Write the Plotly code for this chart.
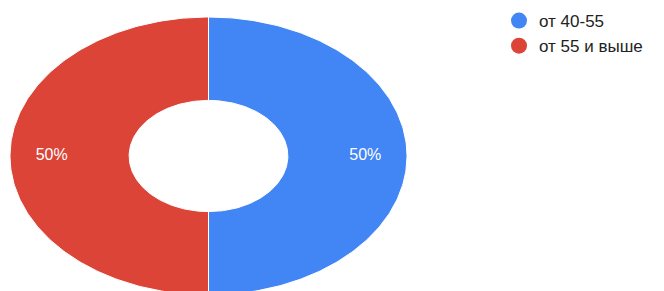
import numpy as np
import plotly.graph_objects as go

# ---- data ----
categories = ["от 40-55", "от 55 и выше"]
values = [50, 50]
colors = ["#4285F4", "#DB4437"]

# ---- geometry (derived from values) ----
# page body has an 8px margin, so the figure is sized to fit the rest
OFF = 8
W, H = 664 - 2 * OFF, 291 - OFF
cx_px, cy_px = 208.5 - OFF, 156.0 - OFF   # centre in figure pixels
rx_px, ry_px = 198.5, 139.0               # outer radii (stretched donut)
hole = 0.4
label_r = 0.79

x_range = [-cx_px / rx_px, (W - cx_px) / rx_px]
y_range = [-(H - cy_px) / ry_px, cy_px / ry_px]

total = float(sum(values))
fig = go.Figure()

start = 0.0
label_x, label_y, label_t = [], [], []
for cat, val, col in zip(categories, values, colors):
    frac = val / total
    a0, a1 = start * 2 * np.pi, (start + frac) * 2 * np.pi
    th = np.linspace(a0, a1, 200)
    xs = np.concatenate([np.sin(th), hole * np.sin(th[::-1])])
    ys = np.concatenate([np.cos(th), hole * np.cos(th[::-1])])
    xs = np.append(xs, xs[0])
    ys = np.append(ys, ys[0])
    fig.add_trace(go.Scatter(
        x=xs, y=ys, mode="lines", fill="toself", fillcolor=col,
        line=dict(color="white", width=1), showlegend=False,
        hoverinfo="skip", name=cat))
    mid = (a0 + a1) / 2
    label_x.append(label_r * np.sin(mid))
    label_y.append(label_r * np.cos(mid))
    label_t.append(f"{round(frac * 100)}%")
    start += frac

fig.add_trace(go.Scatter(
    x=label_x, y=label_y, mode="text", text=label_t,
    textfont=dict(family="Arial, Liberation Sans, sans-serif", size=16, color="white"),
    showlegend=False, hoverinfo="skip"))

for i, (cat, col) in enumerate(zip(categories, colors)):
    fig.add_trace(go.Scatter(
        x=[None], y=[None], mode="markers", name=cat,
        marker=dict(color=col, size=16, symbol="circle"),
        legendgroup=f"g{i}", showlegend=True))

fig.update_layout(
    width=W, height=H,
    margin=dict(l=0, r=0, t=0, b=0, autoexpand=False),
    paper_bgcolor="white", plot_bgcolor="white",
    xaxis=dict(range=x_range, visible=False, fixedrange=True),
    yaxis=dict(range=y_range, visible=False, fixedrange=True),
    legend=dict(
        x=(499 - OFF) / W, y=1 + 5 / H, xanchor="left", yanchor="top",
        font=dict(family="Arial, Liberation Sans, sans-serif", size=17, color="#222222"),
        traceorder="grouped", tracegroupgap=0,
        bgcolor="rgba(0,0,0,0)"),
    showlegend=True,
)

fig.write_html("out.html")
